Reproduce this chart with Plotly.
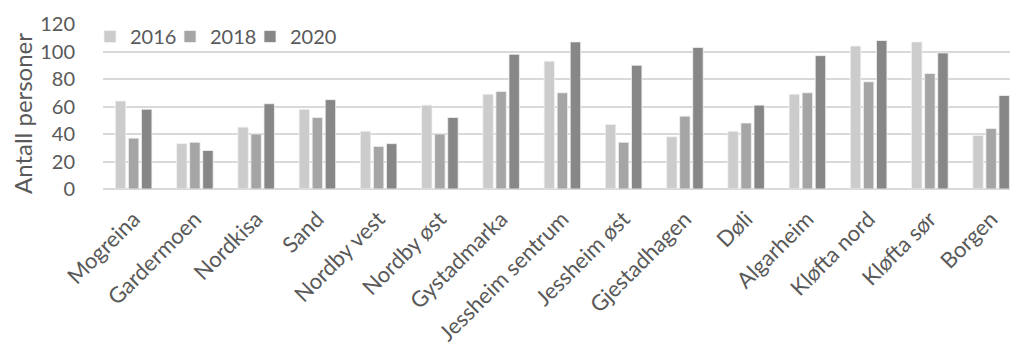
import plotly.graph_objects as go

categories = ["Mogreina", "Gardermoen", "Nordkisa", "Sand", "Nordby vest", "Nordby øst",
              "Gystadmarka", "Jessheim sentrum", "Jessheim øst", "Gjestadhagen", "Døli",
              "Algarheim", "Kløfta nord", "Kløfta sør", "Borgen"]
v2016 = [64, 33, 45, 58, 42, 61, 69, 93, 47, 38, 42, 69, 104, 107, 39]
v2018 = [37, 34, 40, 52, 31, 40, 71, 70, 34, 53, 48, 70, 78, 84, 44]
v2020 = [58, 28, 62, 65, 33, 52, 98, 107, 90, 103, 61, 97, 108, 99, 68]
series_names = ["2016", "2018", "2020"]
colors = ["#cccccc", "#a5a5a5", "#878787"]
y_title = "Antall personer"

fig = go.Figure()
for name, vals, col in zip(series_names, [v2016, v2018, v2020], colors):
    fig.add_trace(go.Bar(x=categories, y=vals, name=name,
                         marker=dict(color=col, line=dict(color="#f2f2f2", width=0.8))))
# invisible spacer entry so the last legend label is not clipped
fig.add_trace(go.Scatter(x=[None], y=[None], mode="markers", name=" ",
                         marker=dict(color="rgba(0,0,0,0)", size=1, opacity=0,
                                     line=dict(width=0)),
                         hoverinfo="skip"))

font_family = "Lato, Carlito, 'Open Sans', sans-serif"
txt = "#595959"
W, H = 1010, 343
ml, mr, mt, mb = 103, 0, 24, 154
pw = W - ml - mr
ph = H - mt - mb
cat_px = 61.25

fig.update_layout(
    width=W, height=H,
    margin=dict(l=ml, r=mr, t=mt, b=mb, pad=0),
    paper_bgcolor="white", plot_bgcolor="white",
    barmode="group", bargap=0.36, bargroupgap=0.2,
    font=dict(family=font_family, color=txt),
    showlegend=True,
    legend=dict(orientation="h", x=-13 / pw, y=1 + 7 / ph, xanchor="left", yanchor="top",
                font=dict(size=20, color=txt), bgcolor="rgba(0,0,0,0)",
                itemwidth=30, entrywidth=35, tracegroupgap=0),
    yaxis=dict(range=[0, 120], dtick=20, showgrid=True, gridcolor="#d9d9d9", gridwidth=1.5,
               zeroline=True, zerolinecolor="#d9d9d9", zerolinewidth=1.5,
               tickfont=dict(size=20, color=txt), ticks="", showline=False,
               automargin=False, ticklabelstandoff=27),
    xaxis=dict(tickangle=-45, tickfont=dict(size=22, color=txt), showline=False,
               ticks="", showgrid=False, automargin=False, ticklabelstandoff=12,
               range=[-0.5, -0.5 + pw / cat_px]),
    annotations=[dict(text=y_title, textangle=-90, xref="paper", yref="paper",
                      x=-(ml - 22) / pw, y=(189.5 - 114.5) / ph,
                      xanchor="center", yanchor="middle", showarrow=False,
                      font=dict(size=24, color=txt))],
)

fig.write_html("out.html", config={"displayModeBar": False},
               post_script="document.body.style.margin='0';document.body.style.overflow='hidden';")
